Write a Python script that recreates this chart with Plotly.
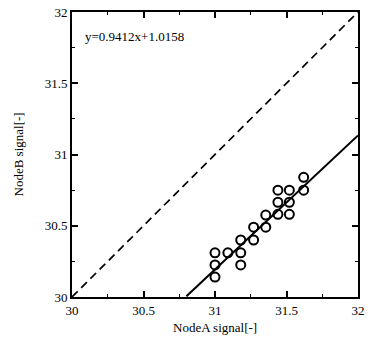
import plotly.graph_objects as go

node_a = [31.00, 31.00, 31.00, 31.09, 31.18, 31.18, 31.18, 31.27, 31.27, 31.355, 31.355,
          31.44, 31.44, 31.44, 31.52, 31.52, 31.52, 31.62, 31.62]
node_b = [30.31, 30.225, 30.14, 30.31, 30.40, 30.31, 30.225, 30.49, 30.40, 30.575, 30.49,
          30.75, 30.665, 30.58, 30.75, 30.665, 30.58, 30.84, 30.75]
slope = 0.9412
intercept = 1.0158
fit_x = [30.8, 32.0]
fit_y = [slope * v + intercept for v in fit_x]
ident = [30, 32]
ticks = [30, 30.5, 31, 31.5, 32]
tick_text = ["30", "30.5", "31", "31.5", "32"]

FONT = "Liberation Serif"

fig = go.Figure()
fig.add_trace(go.Scatter(x=ident, y=ident, mode="lines",
                         line=dict(color="black", width=1.7, dash="8px,5px"), showlegend=False))
fig.add_trace(go.Scatter(x=fit_x, y=fit_y, mode="lines",
                         line=dict(color="black", width=2), showlegend=False))
fig.add_trace(go.Scatter(x=node_a, y=node_b, mode="markers",
                         marker=dict(symbol="circle-open", size=9, color="black",
                                     line=dict(width=2, color="black")), showlegend=False))

axis_common = dict(range=[30, 32], tickvals=ticks, ticktext=tick_text, ticks="inside", ticklen=6,
                   tickwidth=1.5, tickcolor="black", showline=True, linecolor="black", linewidth=2,
                   mirror="ticks", showgrid=False, zeroline=False, automargin=False,
                   tickfont=dict(family=FONT, size=13, color="black"),
                   minor=dict(ticks="inside", ticklen=3, tickwidth=1.2, tickcolor="black", dtick=0.25))

fig.update_xaxes(**axis_common)
fig.update_yaxes(**axis_common)

fig.add_annotation(x=30.08, y=31.83, xref="x", yref="y", text="y=0.9412x+1.0158", showarrow=False,
                   xanchor="left", yanchor="middle", font=dict(family=FONT, size=13, color="black"))
fig.add_annotation(x=0.5, y=328, xref="x domain", yref="paper", text="NodeA signal[-]", showarrow=False,
                   font=dict(family=FONT, size=13, color="black"))
fig.add_annotation(x=18, y=0.5, xref="paper", yref="y domain", text="NodeB signal[-]", showarrow=False,
                   textangle=-90, font=dict(family=FONT, size=13, color="black"))

fig.update_layout(width=368, height=343, margin=dict(l=72, r=10, t=12, b=46),
                  plot_bgcolor="white", paper_bgcolor="white")

# convert pixel positions of titles to paper coordinates
pw = 368 - 72 - 10
ph = 343 - 12 - 46
fig.layout.annotations[1].update(yref="paper", y=(343 - 46 - 328) / ph, yanchor="middle")
fig.layout.annotations[2].update(xref="paper", x=(18 - 72) / pw, xanchor="center")

fig.write_html("out.html")
